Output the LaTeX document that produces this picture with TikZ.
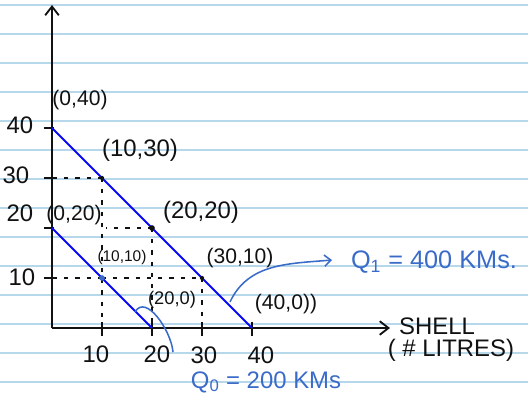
\documentclass[tikz,border=0pt]{standalone}
\usepackage{fontspec}
\setmainfont{Liberation Sans}
\usetikzlibrary{arrows.meta,positioning}
\definecolor{Ink}{HTML}{111111}
\definecolor{Rule}{HTML}{B7D8EA}
\definecolor{Budget}{HTML}{0A0AF0}
\definecolor{Pen}{HTML}{3A6BC8}
\tikzset{
  axis/.style={line width=1.3pt, draw=Ink, -{Straight Barb[length=2.2mm,width=3.4mm]}},
  budget/.style={line width=1.3pt, draw=Budget},
  guide/.style={draw=Ink, line width=0.8pt, dash pattern=on 3pt off 5pt},
  tickmark/.style={line width=1pt, draw=Ink},
  coordlbl/.style={font=\fontsize{15}{17}\selectfont, text=Ink, inner sep=0pt},
  ticklbl/.style={font=\fontsize{17}{19}\selectfont, text=Ink, inner sep=0pt},
  note/.style={font=\fontsize{18}{20}\selectfont, text=Pen, inner sep=0pt},
  callout/.style={line width=1.1pt, draw=Pen},
  pt/.style={circle, fill=Ink, inner sep=0pt, minimum size=4pt}
}
\begin{document}
\begin{tikzpicture}[x=0.125cm,y=0.125cm]
  \useasboundingbox (-10.4,-14.6) rectangle (95.2,65.6);
  % ruled paper
  \foreach \k [evaluate=\k as \yy using 64.6-5.8*\k] in {0,...,13}
    \draw[Rule, line width=0.8pt] (-10.4,\yy) -- (95.2,\yy);

  % axes
  \coordinate (O) at (0,0);
  \coordinate (ytop) at (0,64.6);
  \coordinate (xend) at (67.6,0);
  \draw[axis] (O) -- (ytop);
  \draw[axis] (O) -- (xend);
  \foreach \v in {10,20,30,40} {
    \draw[tickmark] (\v,1.2) -- (\v,-1.6);
    \draw[tickmark] (-1.6,\v) -- (0.4,\v);
  }

  % tick labels
  \node[ticklbl] (y40) at (-6.4,40.6) {40};
  \node[ticklbl] (y30) at (-7.2,30.6) {30};
  \node[ticklbl] (y20) at (-6.4,23) {20};
  \node[ticklbl] (y10) at (-6,10.2) {10};
  \node[ticklbl] (x10) at (8.8,-5.2) {10};
  \node[ticklbl] (x20) at (21,-5.2) {20};
  \node[ticklbl] (x30) at (30.4,-5.4) {30};
  \node[ticklbl] (x40) at (41.8,-5.4) {40};
  \node[ticklbl] (shell) at (77,0.4) {SHELL};
  \node[ticklbl,below=0.9 of shell.south west,anchor=north west,xshift=-8pt] (litres) {( \# LITRES)};

  % budget lines
  \coordinate (a) at (0,40);
  \coordinate (b) at (10,30);
  \coordinate (c) at (20,20);
  \coordinate (d) at (30,10);
  \coordinate (e) at (40,0);
  \coordinate (f) at (0,20);
  \coordinate (g) at (10,10);
  \coordinate (h) at (20,0);
  \draw[budget] (a) -- (e);
  \draw[budget] (f) -- (h);

  % guides
  \draw[guide] (b) -- (b -| O);
  \draw[guide] (b) -- (b |- O);
  \draw[guide] (c) -- ([xshift=3pt]c -| g);
  \draw[guide] (c) -- (h);
  \draw[guide] (g) -- (g -| O);
  \draw[guide] (g) -- (d);
  \draw[guide] (d) -- (d |- O);

  \node[pt,minimum size=3pt] at (b) {};
  \node[pt] at (c) {};
  \node[pt,fill=Pen] at (g) {};
  \node[pt,minimum size=3pt] at (d) {};

  % point labels
  \node[coordlbl] (la) at (5.6,45.6) {(0,40)};
  \node[coordlbl,font=\fontsize{17}{19}\selectfont] (lb) at (17.6,35.6) {(10,30)};
  \node[coordlbl] (lf) at (4.4,22.6) {(0,20)};
  \node[coordlbl,font=\fontsize{17}{19}\selectfont] (lc) at (29.8,23.2) {(20,20)};
  \node[coordlbl,font=\fontsize{11}{13}\selectfont] (lg) at (14,14) {(10,10)};
  \node[coordlbl] (ld) at (37.6,14) {(30,10)};
  \node[coordlbl,font=\fontsize{13}{15}\selectfont] (lh) at (24,5.6) {(20,0)};
  \node[coordlbl] (le) at (46.8,4.8) {(40,0))};

  % quantities
  \node[note] (q1) at (76.4,13.2) {Q\textsubscript{1} = 400 KMs.};
  \node[note,font=\fontsize{17}{19}\selectfont] (q0) at (42.8,-10.8) {Q\textsubscript{0} = 200 KMs};
  \coordinate (q1s) at (35.6,5.2);
  \coordinate (q1e) at (56,13.6);
  \draw[callout,-{Straight Barb[length=1.6mm,width=2.8mm]}] (q1s) to[out=65,in=185] (q1e);
  \coordinate (q0s) at (16.6,3.2);
  \coordinate (q0e) at (24.2,-4.8);
  \draw[callout] (q0s) to[out=60,in=95] (q0e);
\end{tikzpicture}
\end{document}
